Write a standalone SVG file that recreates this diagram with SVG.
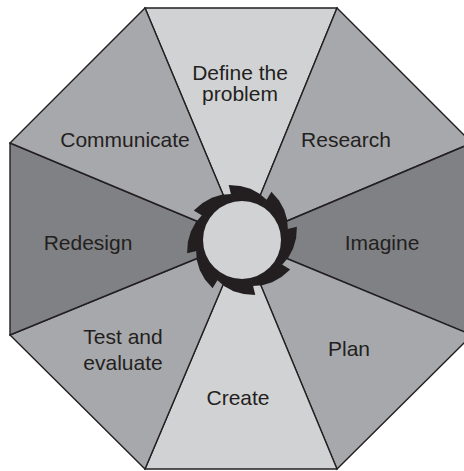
<svg xmlns="http://www.w3.org/2000/svg" xmlns:xlink="http://www.w3.org/1999/xlink" width="464" height="471" viewBox="0 0 464 471">
  <style>
    .sec { stroke: #231f20; stroke-width: 1.4; stroke-linejoin: miter; }
    .light { fill: #d1d2d4; }
    .mid { fill: #a7a8ab; }
    .dark { fill: #808184; }
    .lbl { font-family: "Liberation Sans", Arial, sans-serif; font-size: 21px; fill: #231f20; text-anchor: middle; }
  </style>
  <defs>
    <path id="tooth" d="M0,0 L56.5,-0.6 L53.1,10.5 L47.9,19.8 L41.2,27.5 L33.3,33.3 Z" fill="#231f20"/>
  </defs>
  <rect width="464" height="471" fill="#ffffff"/>

  <g id="define">
    <polygon class="sec light" points="242,240 145,8 337,8"/>
    <text class="lbl" x="240" y="80">Define the</text>
    <text class="lbl" x="240" y="101">problem</text>
  </g>
  <g id="research">
    <polygon class="sec mid" points="242,240 337,8 472,143"/>
    <text class="lbl" x="346" y="147">Research</text>
  </g>
  <g id="imagine">
    <polygon class="sec dark" points="242,240 472,143 472,335"/>
    <text class="lbl" x="382" y="250">Imagine</text>
  </g>
  <g id="plan">
    <polygon class="sec mid" points="242,240 472,335 337,469"/>
    <text class="lbl" x="349" y="356">Plan</text>
  </g>
  <g id="create">
    <polygon class="sec light" points="242,240 337,469 145,469"/>
    <text class="lbl" x="238" y="405">Create</text>
  </g>
  <g id="test">
    <polygon class="sec mid" points="242,240 145,469 10,335"/>
    <text class="lbl" x="123" y="344">Test and</text>
    <text class="lbl" x="123" y="370">evaluate</text>
  </g>
  <g id="redesign">
    <polygon class="sec dark" points="242,240 10,335 10,143"/>
    <text class="lbl" x="88" y="250">Redesign</text>
  </g>
  <g id="communicate">
    <polygon class="sec mid" points="242,240 10,143 145,8"/>
    <text class="lbl" x="125" y="147">Communicate</text>
  </g>

  <g id="connectors"></g>

  <g id="hub">
    <use xlink:href="#tooth" transform="translate(242,240) rotate(-103)"/>
    <use xlink:href="#tooth" transform="translate(242,240) rotate(-58)"/>
    <use xlink:href="#tooth" transform="translate(242,240) rotate(-13)"/>
    <use xlink:href="#tooth" transform="translate(242,240) rotate(32)"/>
    <use xlink:href="#tooth" transform="translate(242,240) rotate(77)"/>
    <use xlink:href="#tooth" transform="translate(242,240) rotate(122)"/>
    <use xlink:href="#tooth" transform="translate(242,240) rotate(167)"/>
    <use xlink:href="#tooth" transform="translate(242,240) rotate(212)"/>
    <circle cx="242" cy="240" r="39" fill="#d1d2d4"/>
  </g>
</svg>
